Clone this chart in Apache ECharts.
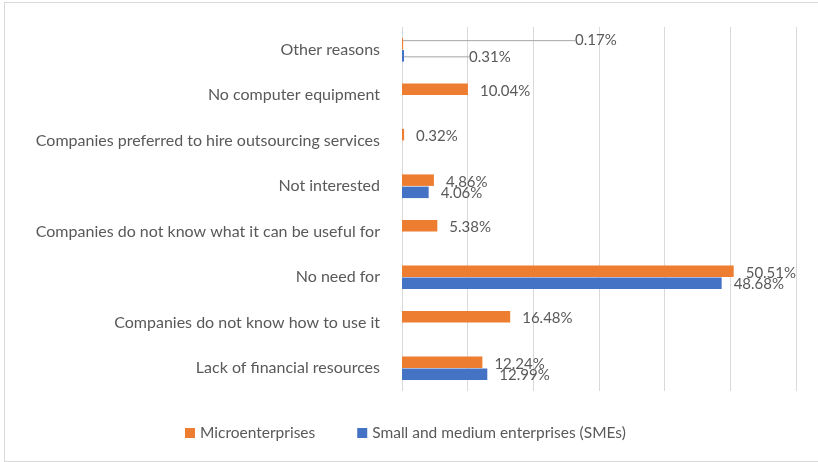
<!DOCTYPE html>
<html>
<head>
<meta charset="utf-8">
<script src="https://cdn.jsdelivr.net/npm/echarts@6/dist/echarts.min.js"></script>
<style>
  html, body { margin: 0; padding: 0; background: #fff; }
  #chart { position: absolute; left: 0; top: 0; width: 818px; height: 462px; }
  #frame { position: absolute; left: 4px; top: 2px; width: 830px; height: 458px;
           border: 1px solid #d9d9d9; pointer-events: none; }
</style>
</head>
<body>
<div id="chart"></div>
<div id="frame"></div>
<script>
// Reasons for not using the technology, listed bottom to top
const categories = [
  'Lack of financial resources',
  'Companies do not know how to use it',
  'No need for',
  'Companies do not know what it can be useful for',
  'Not interested',
  'Companies preferred to hire outsourcing services',
  'No computer equipment',
  'Other reasons'
];
// Shares in percent
const microValues = [12.24, 16.48, 50.51, 5.38, 4.86, 0.32, 10.04, 0.17];
const smeValues   = [12.99, null, 48.68, null, 4.06, null, null, 0.31];
const seriesNames = ['Microenterprises', 'Small and medium enterprises (SMEs)'];

const textColor = '#595959';
const fontFamily = 'Lato, "Open Sans", sans-serif';

// The tiny "Other reasons" bars get call-out labels joined by a leader line
function toData(values, calloutIndex) {
  return values.map((v, i) => {
    if (v === null) return null;
    if (i === calloutIndex) return { value: v, labelLine: { show: true } };
    return v;
  });
}

const lastIdx = categories.length - 1;

function barLabel() {
  return {
    show: true, position: 'right', distance: 12,
    color: textColor, fontSize: 15, fontFamily: fontFamily,
    formatter: p => p.value.toFixed(2) + '%'
  };
}

const chart = echarts.init(document.getElementById('chart'));
chart.setOption({
  animation: false,
  textStyle: { fontFamily: fontFamily },
  grid: { left: 402, right: 22, top: 27, bottom: 71 },
  legend: {
    bottom: 16,
    left: 180,
    itemWidth: 10,
    itemHeight: 10,
    itemGap: 42,
    icon: 'rect',
    data: [seriesNames[0], seriesNames[1]],
    textStyle: { color: textColor, fontSize: 15.5, fontFamily: fontFamily }
  },
  xAxis: {
    type: 'value',
    min: 0,
    max: 60,
    interval: 10,
    axisLabel: { show: false },
    axisLine: { show: false },
    axisTick: { show: false },
    splitLine: { lineStyle: { color: '#d9d9d9', width: 1 } }
  },
  yAxis: {
    type: 'category',
    data: categories,
    axisLine: { show: false },
    axisTick: { show: false },
    axisLabel: { color: textColor, fontSize: 16, margin: 22, fontFamily: fontFamily }
  },
  series: [
    {
      name: seriesNames[0],
      type: 'bar',
      data: toData(microValues, lastIdx),
      barWidth: 11.5,
      barGap: '6%',
      itemStyle: { color: '#ed7d31' },
      label: barLabel(),
      labelLine: { show: false, lineStyle: { color: '#a6a6a6', width: 1 } },
      labelLayout: p => p.dataIndex === lastIdx ? { dx: 160, dy: -3 } : { dy: 2 }
    },
    {
      name: seriesNames[1],
      type: 'bar',
      data: toData(smeValues, lastIdx),
      barWidth: 11.5,
      barGap: '6%',
      itemStyle: { color: '#4472c4' },
      label: barLabel(),
      labelLine: { show: false, lineStyle: { color: '#a6a6a6', width: 1 } },
      labelLayout: p => p.dataIndex === lastIdx ? { dx: 53, dy: 1 } : { dy: 1 }
    }
  ]
});
</script>
</body>
</html>
